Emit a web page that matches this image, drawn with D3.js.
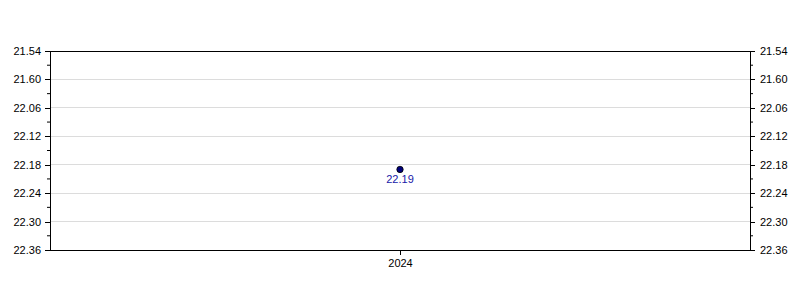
<!DOCTYPE html>
<html>
<head>
<meta charset="utf-8">
<script src="https://cdn.jsdelivr.net/npm/d3@7"></script>
<style>
  body { margin: 0; background: #fff; }
  text { font-family: "Liberation Sans", Arial, sans-serif; }
</style>
</head>
<body>
<div id="chart"></div>
<script>
// data
var years = ["2024"];
var times = [22.19];            // min.sec
var yTickLabels = ["21.54", "21.60", "22.06", "22.12", "22.18", "22.24", "22.30", "22.36"];

// "mm.ss" -> seconds
function toSec(v) {
	var m = Math.floor(v);
	return m * 60 + Math.round((v - m) * 100);
}

var w = 800, h = 300;
var margin = {top: 51, right: 50, bottom: 50, left: 50};
var iw = w - margin.left - margin.right;
var ih = h - margin.top - margin.bottom;

var svg = d3.select("#chart").append("svg")
	.attr("width", w)
	.attr("height", h);

var g = svg.append("g")
	.attr("transform", "translate(" + margin.left + "," + margin.top + ")");

var tickVals = yTickLabels.map(function(d){ return toSec(+d); });

var x = d3.scalePoint().domain(years).range([0, iw]).padding(0.5);
var y = d3.scaleLinear()
	.domain([tickVals[0], tickVals[tickVals.length - 1]])
	.range([0, ih]);

var minorVals = d3.range(tickVals[0] + 3, tickVals[tickVals.length - 1], 6);

// grid lines
g.selectAll("line.grid")
	.data(tickVals.slice(1, -1))
	.enter().append("line")
		.attr("class", "grid")
		.attr("x1", 0)
		.attr("x2", iw)
		.attr("y1", function(d){ return y(d); })
		.attr("y2", function(d){ return y(d); })
		.style("stroke", "#dcdcdc")
		.style("stroke-width", 1)
		.attr("shape-rendering", "crispEdges");

// frame top
g.append("line").attr("x1", 0).attr("x2", iw).attr("y1", 0).attr("y2", 0)
	.style("stroke", "#000").attr("shape-rendering", "crispEdges");

// axes
var fmt = function(d, i){ return yTickLabels[i]; };

var yl = g.append("g")
	.call(d3.axisLeft(y).tickValues(tickVals).tickFormat(fmt).tickSize(5).tickPadding(4));
var yr = g.append("g")
	.attr("transform", "translate(" + iw + ",0)")
	.call(d3.axisRight(y).tickValues(tickVals).tickFormat(fmt).tickSize(5).tickPadding(5));

// minor ticks
yl.selectAll("line.minor").data(minorVals).enter().append("line")
	.attr("class", "minor")
	.attr("x1", -3).attr("x2", 0)
	.attr("y1", function(d){ return y(d); }).attr("y2", function(d){ return y(d); })
	.style("stroke", "#000");
yr.selectAll("line.minor").data(minorVals).enter().append("line")
	.attr("class", "minor")
	.attr("x1", 0).attr("x2", 3)
	.attr("y1", function(d){ return y(d); }).attr("y2", function(d){ return y(d); })
	.style("stroke", "#000");

var xa = g.append("g")
	.attr("transform", "translate(0," + ih + ")")
	.call(d3.axisBottom(x).tickSize(5).tickPadding(4));
xa.select(".domain").attr("d", "M0,0.5H" + iw);

svg.selectAll(".tick text").style("font-size", "11px").style("fill", "#000");
svg.selectAll(".domain, .tick line").attr("shape-rendering", "crispEdges");

// point + label
g.selectAll("circle.pt")
	.data(times)
	.enter().append("circle")
		.attr("class", "pt")
		.attr("cx", function(d, i){ return x(years[i]); })
		.attr("cy", function(d){ return y(toSec(d)); })
		.attr("r", 3.2)
		.style("fill", "#00007a")
		.style("stroke", "#000")
		.style("stroke-width", 0.8);

g.selectAll("text.lbl")
	.data(times)
	.enter().append("text")
		.attr("class", "lbl")
		.attr("x", function(d, i){ return x(years[i]); })
		.attr("y", function(d){ return y(toSec(d)) + 14; })
		.attr("text-anchor", "middle")
		.style("font-size", "11px")
		.style("fill", "#1818a8")
		.text(function(d){ return d.toFixed(2); });
</script>
</body>
</html>
